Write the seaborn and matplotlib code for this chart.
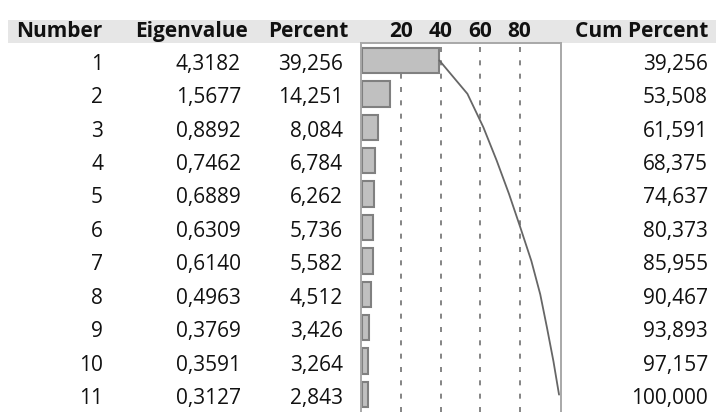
import matplotlib
matplotlib.use("Agg")
import matplotlib.pyplot as plt
import matplotlib.transforms as mtransforms
from matplotlib.patches import Rectangle
import seaborn as sns
import pandas as pd

numbers = list(range(1, 12))
eigenvalues = [4.3182, 1.5677, 0.8892, 0.7462, 0.6889, 0.6309, 0.6140, 0.4963, 0.3769, 0.3591, 0.3127]
percents = [39.256, 14.251, 8.084, 6.784, 6.262, 5.736, 5.582, 4.512, 3.426, 3.264, 2.843]
cum_percents = [39.256, 53.508, 61.591, 68.375, 74.637, 80.373, 85.955, 90.467, 93.893, 97.157, 100.000]
grid_ticks = [20, 40, 60, 80]
headers = ["Number", "Eigenvalue", "Percent", "Cum Percent"]

sns.set_theme(style="white")
plt.rcParams["font.family"] = ["Open Sans", "DejaVu Sans"]

W, H = 716, 412
fig = plt.figure(figsize=(W / 100, H / 100), dpi=100)
fig.patch.set_facecolor("white")

def fx(px):
    return px / W

def fy(py):
    return 1 - py / H

# header band, kept beneath every axes
fig.patches.append(Rectangle((fx(8), fy(43)), fx(W - 8), (43 - 20) / H,
                             transform=fig.transFigure, facecolor="#e6e6e6",
                             edgecolor="none", zorder=-5))

# percent bar chart panel
ax = fig.add_axes([fx(361), 0, fx(561) - fx(361), (H - 43) / H])
df = pd.DataFrame({"Number": [str(n) for n in numbers], "Percent": percents})
sns.barplot(data=df, x="Percent", y="Number", orient="h", ax=ax,
            color="#c0c0c0", edgecolor="#808080", linewidth=1.5,
            width=0.76, saturation=1)
ax.plot(cum_percents, list(range(len(numbers))), color="#666666", lw=1.3, zorder=4)
for t in grid_ticks:
    ax.axvline(t, color="#707070", lw=1.2, ls=(0, (3, 5)), zorder=0)
ax.set_xlim(-0.5, 101.0)
ax.set_ylim(10.52, -0.52)
ax.set_xlabel("")
ax.set_ylabel("")
ax.set_xticks([])
ax.set_yticks([])
for side in ["left", "right", "top"]:
    ax.spines[side].set_visible(True)
    ax.spines[side].set_color("#a8a8a8")
    ax.spines[side].set_linewidth(1.4)
ax.spines["bottom"].set_visible(False)

# percent scale labels sit inside the header band
hdr_tr = mtransforms.blended_transform_factory(ax.transData, fig.transFigure)
for t in grid_ticks:
    ax.text(t, fy(37), str(t), transform=hdr_tr, ha="center", va="baseline",
            fontsize=15, fontweight="bold", color="#111111", clip_on=False)

# column headers
header_x = [102, 248, 348, 708]
for x, h in zip(header_x, headers):
    fig.text(fx(x), fy(37), h, ha="right", va="baseline",
             fontsize=15, fontweight="bold", color="#111111")

def comma(v, d):
    return f"{v:.{d}f}".replace(".", ",")

row_tr = mtransforms.blended_transform_factory(fig.transFigure, ax.transData)
value_x = [103, 241, 343, 708]
for i in range(len(numbers)):
    cells = [str(numbers[i]), comma(eigenvalues[i], 4),
             comma(percents[i], 3), comma(cum_percents[i], 3)]
    for x, s in zip(value_x, cells):
        ax.text(fx(x), i + 0.28, s, transform=row_tr, ha="right",
                va="baseline", fontsize=15, color="#111111", clip_on=False)

fig.savefig("out.png", dpi=100, facecolor="white")
